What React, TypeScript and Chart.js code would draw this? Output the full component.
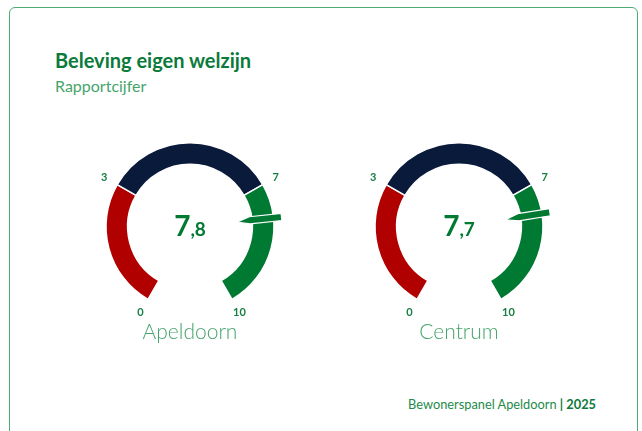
import React, { useEffect, useRef } from 'react';
import { Chart, registerables } from 'chart.js';

Chart.register(...registerables);

const regions = ['Apeldoorn', 'Centrum'];
const scores = [7.8, 7.7];
const bandEdges = [0, 3, 7, 10];
const tickLabels = ['0', '3', '7', '10'];
const bandColors = ['#B00000', '#0A1A3B', '#007A33'];

const GREEN = '#007A33';
const LABEL_GREEN = '#157F41';
const NAME_GREEN = '#46A46B';
const FONT = 'Lato, "Open Sans", sans-serif';

function Gauge({ name, score, left }: { name: string; score: number; left: number }) {
  const ref = useRef<HTMLCanvasElement | null>(null);
  useEffect(() => {
    if (!ref.current) return;
    const bandSizes = bandEdges.slice(1).map((e, i) => e - bandEdges[i]);
    const max = bandEdges[bandEdges.length - 1];
    const plugin = {
      id: 'gaugeDecor',
      afterDatasetsDraw(chart: any) {
        const meta = chart.getDatasetMeta(0);
        const first = meta.data[0];
        const last = meta.data[meta.data.length - 1];
        const cx = first.x;
        const cy = first.y;
        const start = first.startAngle;
        const end = last.endAngle;
        const ang = (v: number) => start + ((end - start) * v) / max;
        const ctx = chart.ctx as CanvasRenderingContext2D;
        ctx.save();
        ctx.font = `bold 11px ${FONT}`;
        ctx.fillStyle = LABEL_GREEN;
        ctx.textAlign = 'center';
        ctx.textBaseline = 'middle';
        bandEdges.forEach((v, i) => {
          const a = ang(v);
          ctx.fillText(tickLabels[i], cx + 99 * Math.cos(a), cy + 99 * Math.sin(a));
        });
        ctx.restore();

        // needle
        ctx.save();
        ctx.translate(cx, cy);
        ctx.rotate(ang(score));
        ctx.beginPath();
        ctx.moveTo(47, 0.5);
        ctx.lineTo(60, -3.6);
        ctx.lineTo(92, -3.6);
        ctx.lineTo(92, 3.6);
        ctx.lineTo(60, 3.6);
        ctx.closePath();
        ctx.fillStyle = GREEN;
        ctx.fill();
        ctx.lineWidth = 1.2;
        ctx.strokeStyle = '#ffffff';
        ctx.stroke();
        ctx.restore();

        // center value
        ctx.save();
        const parts = score.toFixed(1).split('.');
        const bigFont = `bold 28px ${FONT}`;
        const smallFont = `bold 19px ${FONT}`;
        ctx.font = bigFont;
        const w1 = ctx.measureText(parts[0]).width;
        ctx.font = smallFont;
        const w2 = ctx.measureText(',' + parts[1]).width;
        const x0 = cx - (w1 + w2) / 2;
        ctx.textAlign = 'left';
        ctx.textBaseline = 'alphabetic';
        ctx.fillStyle = GREEN;
        ctx.font = bigFont;
        ctx.fillText(parts[0], x0, cy + 9);
        ctx.font = smallFont;
        ctx.fillText(',' + parts[1], x0 + w1, cy + 9);

        // region name
        ctx.font = `300 21px ${FONT}`;
        ctx.fillStyle = NAME_GREEN;
        ctx.textAlign = 'center';
        ctx.fillText(name, cx, cy + 112);
        ctx.restore();
      },
    };
    const chart = new Chart(ref.current, {
      type: 'doughnut',
      data: {
        labels: bandSizes.map((_, i) => `${bandEdges[i]}-${bandEdges[i + 1]}`),
        datasets: [
          {
            data: bandSizes,
            backgroundColor: bandColors,
            borderColor: '#ffffff',
            borderWidth: 1.5,
            radius: 84,
          } as any,
        ],
      },
      options: {
        animation: false,
        responsive: false,
        rotation: 210,
        circumference: 300,
        cutout: '74.2%',
        layout: { padding: 0 },
        plugins: { legend: { display: false }, tooltip: { enabled: false } },
        events: [],
      },
      plugins: [plugin],
    });
    return () => chart.destroy();
  }, [name, score]);
  return (
    <canvas
      ref={ref}
      width={240}
      height={260}
      style={{ position: 'absolute', left, top: 91, width: 240, height: 260 }}
    />
  );
}

export default function App() {
  const centersX = [190, 459];
  return (
    <div
      style={{
        position: 'fixed',
        left: 0,
        top: 0,
        width: 642,
        height: 431,
        background: '#ffffff',
        overflow: 'hidden',
        fontFamily: FONT,
      }}
    >
      <div
        style={{
          position: 'absolute',
          left: 9,
          top: 7,
          width: 629,
          height: 460,
          border: '1.5px solid #4FAA73',
          borderRadius: 6,
          boxSizing: 'border-box',
        }}
      />
      <div
        style={{
          position: 'absolute',
          left: 55,
          top: 49,
          fontSize: 20,
          lineHeight: '22px',
          fontWeight: 'bold',
          color: '#0B7A3A',
          whiteSpace: 'nowrap',
        }}
      >
        Beleving eigen welzijn
      </div>
      <div
        style={{
          position: 'absolute',
          left: 55,
          top: 76,
          fontSize: 16,
          lineHeight: '20px',
          fontWeight: 400,
          color: NAME_GREEN,
          whiteSpace: 'nowrap',
        }}
      >
        Rapportcijfer
      </div>
      {regions.map((r, i) => (
        <Gauge key={r} name={r} score={scores[i]} left={centersX[i] - 120} />
      ))}
      <div
        style={{
          position: 'absolute',
          right: 46,
          top: 397,
          fontSize: 12.8,
          lineHeight: '14px',
          color: '#1E8A4A',
          whiteSpace: 'nowrap',
        }}
      >
        Bewonerspanel Apeldoorn <span style={{ fontWeight: 'bold', color: '#0B7A3A' }}>| 2025</span>
      </div>
    </div>
  );
}
